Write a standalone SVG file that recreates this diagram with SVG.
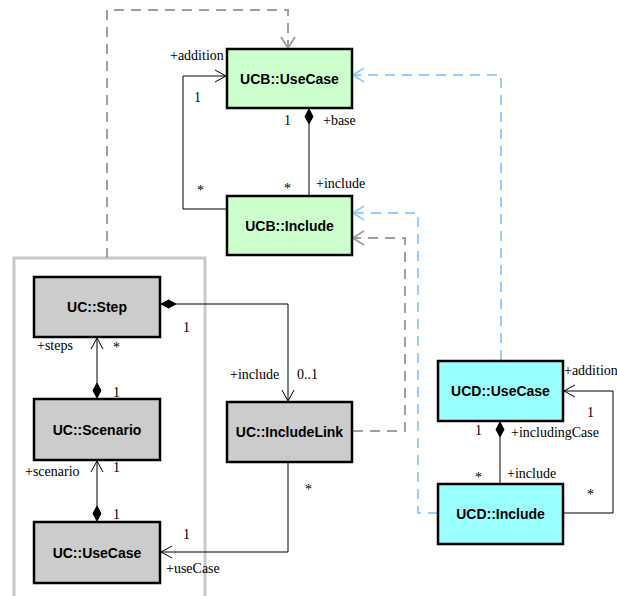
<svg xmlns="http://www.w3.org/2000/svg" width="617" height="596" viewBox="0 0 617 596">
<style>
.box{stroke:#000;stroke-width:2.5}
.ucb{fill:#ccffcc}
.ucd{fill:#99ffff}
.uc{fill:#cccccc}
.title{font-family:"Liberation Sans",Arial,sans-serif;font-weight:bold;font-size:14px;text-anchor:middle;fill:#000}
.lbl{font-family:"Liberation Serif","Times New Roman",serif;font-size:14px;fill:#000}
.solid{fill:none;stroke:#000;stroke-width:1}
.gdash{fill:none;stroke:#a0a0a0;stroke-width:2;stroke-dasharray:10,7}
.bdash{fill:none;stroke:#99ccff;stroke-width:2;stroke-dasharray:10,7}
.dia{fill:#000;stroke:#000;stroke-width:1}
</style>
<defs>
<marker id="aBlack" markerUnits="userSpaceOnUse" markerWidth="14" markerHeight="14" viewBox="-12 -7 14 14" refX="0" refY="0" orient="auto" overflow="visible"><path d="M-11,-6 L0,0 L-11,6" fill="none" stroke="#000" stroke-width="1"/></marker>
<marker id="aGray" markerUnits="userSpaceOnUse" markerWidth="14" markerHeight="14" viewBox="-12 -7 14 14" refX="0" refY="0" orient="auto" overflow="visible"><path d="M-11,-7 L0,0 L-11,7" fill="none" stroke="#a0a0a0" stroke-width="2"/></marker>
<marker id="aBlue" markerUnits="userSpaceOnUse" markerWidth="14" markerHeight="14" viewBox="-12 -7 14 14" refX="0" refY="0" orient="auto" overflow="visible"><path d="M-11,-7 L0,0 L-11,7" fill="none" stroke="#99ccff" stroke-width="2"/></marker>
</defs>

<g id="package">
<rect x="14" y="258" width="191" height="350" fill="none" stroke="#c8c8c8" stroke-width="3"/>
</g>

<g id="connectors">
<path class="gdash" d="M107,258 V10 H288 V48" marker-end="url(#aGray)"/>
<path class="bdash" d="M501,360 V75 H353" marker-end="url(#aBlue)"/>
<path class="bdash" d="M438,513 H418 V213 H353" marker-end="url(#aBlue)"/>
<path class="gdash" d="M353,431 H405 V238 H353" marker-end="url(#aGray)"/>
<path class="solid" d="M227,209 H183 V76 H226" marker-end="url(#aBlack)"/>
<path class="solid" d="M309,196 V124"/>
<polygon class="dia" points="309,109 313,116.5 309,124 305,116.5"/>
<path class="solid" d="M97,383 V338" marker-end="url(#aBlack)"/>
<polygon class="dia" points="97,383 101,390.5 97,398 93,390.5"/>
<path class="solid" d="M97,506 V461" marker-end="url(#aBlack)"/>
<polygon class="dia" points="97,506 101,513.5 97,521 93,513.5"/>
<path class="solid" d="M176,304 H288 V401" marker-end="url(#aBlack)"/>
<polygon class="dia" points="161,304 168.5,300 176,304 168.5,308"/>
<path class="solid" d="M288,462 V552 H161" marker-end="url(#aBlack)"/>
<path class="solid" d="M500,484 V437"/>
<polygon class="dia" points="500,422 504,429.5 500,437 496,429.5"/>
<path class="solid" d="M563,513 H613 V391 H564" marker-end="url(#aBlack)"/>
</g>

<g id="ucb-usecase"><rect class="box ucb" x="227" y="49" width="125" height="59"/><text class="title" x="289.5" y="83.5">UCB::UseCase</text></g>
<g id="ucb-include"><rect class="box ucb" x="227" y="196" width="125" height="59"/><text class="title" x="289.5" y="230.5">UCB::Include</text></g>
<g id="uc-step"><rect class="box uc" x="34" y="277" width="126" height="60"/><text class="title" x="97" y="312">UC::Step</text></g>
<g id="uc-scenario"><rect class="box uc" x="34" y="399" width="126" height="61"/><text class="title" x="97" y="434.5">UC::Scenario</text></g>
<g id="uc-usecase"><rect class="box uc" x="34" y="522" width="126" height="61"/><text class="title" x="97" y="557.5">UC::UseCase</text></g>
<g id="uc-includelink"><rect class="box uc" x="227" y="402" width="125" height="60"/><text class="title" x="289.5" y="437">UC::IncludeLink</text></g>
<g id="ucd-usecase"><rect class="box ucd" x="438" y="361" width="125" height="60"/><text class="title" x="500.5" y="396">UCD::UseCase</text></g>
<g id="ucd-include"><rect class="box ucd" x="438" y="484" width="125" height="60"/><text class="title" x="500.5" y="519">UCD::Include</text></g>

<g id="labels">
<text class="lbl" x="170" y="60">+addition</text>
<text class="lbl" x="194" y="102">1</text>
<text class="lbl" x="197" y="195">*</text>
<text class="lbl" x="284" y="125">1</text>
<text class="lbl" x="323" y="125">+base</text>
<text class="lbl" x="284" y="193">*</text>
<text class="lbl" x="316" y="188">+include</text>
<text class="lbl" x="37" y="350">+steps</text>
<text class="lbl" x="113" y="352">*</text>
<text class="lbl" x="113" y="397">1</text>
<text class="lbl" x="25" y="476">+scenario</text>
<text class="lbl" x="113" y="472">1</text>
<text class="lbl" x="113" y="519">1</text>
<text class="lbl" x="183" y="332">1</text>
<text class="lbl" x="183" y="539">1</text>
<text class="lbl" x="166" y="573">+useCase</text>
<text class="lbl" x="230" y="379">+include</text>
<text class="lbl" x="297" y="379">0..1</text>
<text class="lbl" x="305" y="494">*</text>
<text class="lbl" x="564" y="375">+addition</text>
<text class="lbl" x="587" y="417">1</text>
<text class="lbl" x="587" y="499">*</text>
<text class="lbl" x="475" y="435">1</text>
<text class="lbl" x="511" y="437">+includingCase</text>
<text class="lbl" x="475" y="482">*</text>
<text class="lbl" x="507" y="478">+include</text>
</g>
</svg>
